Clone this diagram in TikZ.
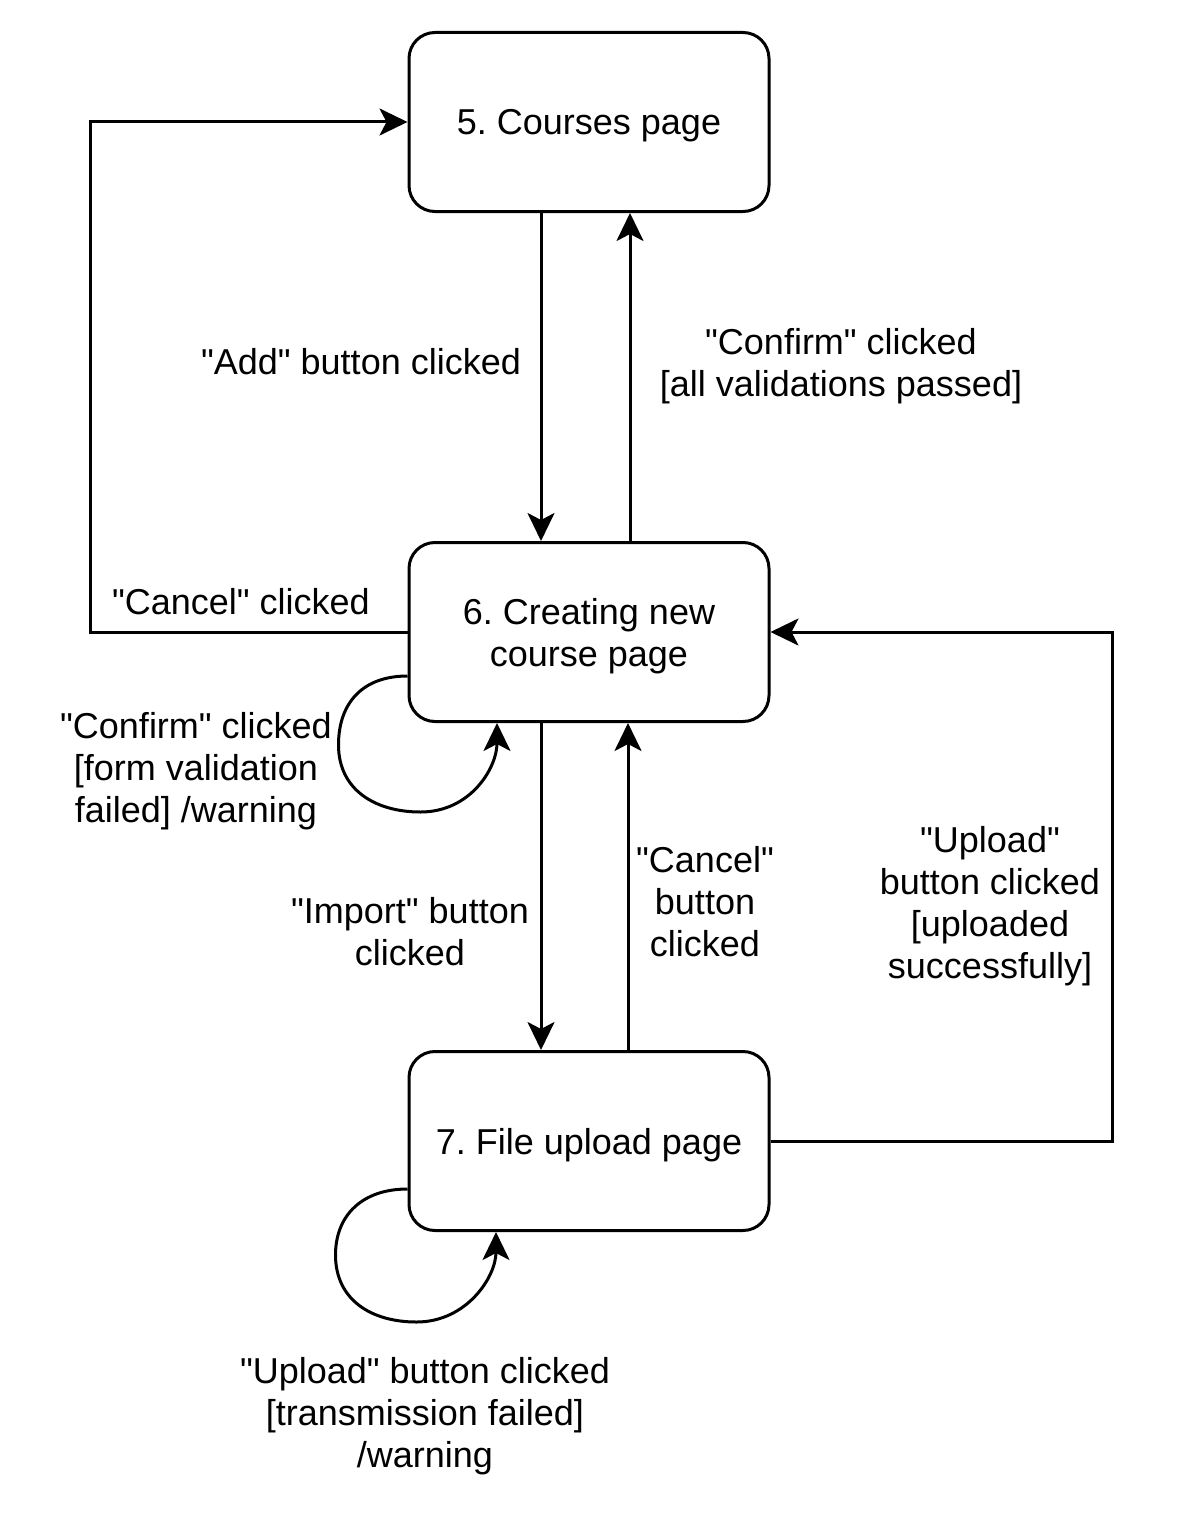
\documentclass[tikz,border=0pt]{standalone}
\usepackage{fontspec}
\setmainfont{Liberation Sans}
\usetikzlibrary{arrows.meta}
\newcommand\dq{\textquotedbl}
\begin{document}
\frenchspacing
\begin{tikzpicture}[x=0.5pt,y=-0.5pt,
  every node/.style={font=\fontsize{18}{21}\selectfont, inner sep=0pt},
  state/.style={draw, line width=1.5pt, rounded corners=13pt, minimum width=180pt, minimum height=89.5pt, fill=white},
  lbl/.style={align=center},
  arr/.style={line width=1.5pt, -{Stealth[length=14pt,width=13.5pt,inset=3.5pt]}}]
\useasboundingbox (0,0) rectangle (1197,1536);
\fill[white] (0,0) rectangle (1197,1536);
\node[state, label={[lbl,yshift=-2pt]center:{\frenchspacing 5. Courses page}}] (n5) at (589,122) {};
\node[state, label={[lbl,yshift=-2pt]center:{\frenchspacing 6. Creating new\\course page}}] (n6) at (589,632) {};
\node[state, label={[lbl,yshift=-2pt]center:{\frenchspacing 7. File upload page}}] (n7) at (589,1141) {};
% 5 <-> 6
\draw[arr] ([xshift=-24pt]n5.south) -- ([xshift=-24pt]n6.north);
\draw[arr] ([xshift=20.5pt]n6.north) -- ([xshift=20.5pt]n5.south);
% 6 <-> 7
\draw[arr] ([xshift=-24pt]n6.south) -- ([xshift=-24pt]n7.north);
\draw[arr] ([xshift=19.5pt]n7.north) -- ([xshift=19.5pt]n6.south);
% cancel back to 5
\draw[arr] (n6.west) -- ++(-317,0) |- (n5.west);
% upload success to 6
\draw[arr] (n7.east) -- ++(342,0) |- (n6.east);
% self loop 6
\draw[arr] ([yshift=-22pt]n6.west) .. controls +(-45,0) and +(0,-42) .. ++(-69,69)
  .. controls +(0,45) and +(-45,0) .. ++(82,67)
  .. controls +(50,0) and +(0,45) .. ([xshift=-46pt]n6.south);
% self loop 7
\draw[arr] ([yshift=-24pt]n7.west) .. controls +(-45,0) and +(0,-40) .. ++(-72,66)
  .. controls +(0,45) and +(-45,0) .. ++(81,67)
  .. controls +(50,0) and +(0,45) .. ([xshift=-46.5pt]n7.south);
% labels
\node[lbl] (l1) at (361,362) {\dq Add\dq{} button clicked};
\node[lbl] (l2) at (841,366) {\dq Confirm\dq{} clicked\\{[all validations passed]}};
\node[lbl] (l3) at (241,602) {\dq Cancel\dq{} clicked};
\node[lbl] (l4) at (196,771) {\dq Confirm\dq{} clicked\\{[form validation}\\failed] /warning};
\node[lbl] (l5) at (410,932) {\dq Import\dq{} button\\clicked};
\node[lbl] (l6) at (705,902) {\dq Cancel\dq\\button\\clicked};
\node[lbl] (l7) at (990,906) {\dq Upload\dq\\button clicked\\{[uploaded}\\successfully]};
\node[lbl] (l8) at (425,1416) {\dq Upload\dq{} button clicked\\{[transmission failed]}\\/warning};
\end{tikzpicture}
\end{document}
